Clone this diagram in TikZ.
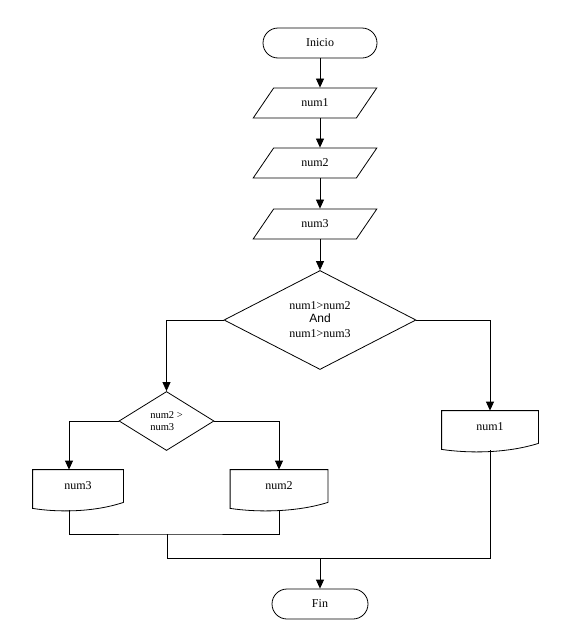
\documentclass[tikz,border=0pt]{standalone}
\usepackage{fontspec}
\setmainfont{Liberation Serif}
\setsansfont{Liberation Sans}
\usetikzlibrary{shapes.geometric,arrows.meta}

\tikzset{
	terminal/.style={draw,rectangle,rounded corners=15pt,minimum height=30pt,inner sep=0pt},
	io/.style={draw,trapezium,trapezium left angle=50,trapezium right angle=130,trapezium stretches=true,minimum width=124pt,minimum height=30pt,inner sep=0pt},
	decision/.style={draw,diamond,inner sep=0pt},
	doc/.style={rectangle,minimum height=32pt,inner sep=0pt},
	arr/.style={-{Triangle[width=8pt,length=9pt]}},
}

\begin{document}
\begin{tikzpicture}[x=1pt,y=-1pt,line width=0.8pt,font=\fontsize{12pt}{14pt}\selectfont]
	\useasboundingbox (0,0) rectangle (575,635);
	\node[terminal,minimum width=114pt] (inicio) at (320,43) {Inicio};
	\node[io] (n1) at (315,103) {num1};
	\node[io] (n2) at (315,163) {num2};
	\node[io] (n3) at (315,224) {num3};
	\node[decision,minimum width=192pt,minimum height=99pt,align=center] (cond1) at (320,320)
		{num1>num2\\[-1pt]{\sffamily And}\\[1pt]num1>num3};
	\node[decision,minimum width=95pt,minimum height=59pt,align=left,font=\fontsize{10.5pt}{12pt}\selectfont] (cond2) at (166.5,421) {num2 >\\num3};
	\node[doc,minimum width=96pt] (o1) at (490,427) {num1};
	\node[doc,minimum width=90pt] (o3) at (78,486) {num3};
	\node[doc,minimum width=97pt] (o2) at (279,486) {num2};
	\node[terminal,minimum width=96pt] (fin) at (320,604) {Fin};

	% document outlines
	\draw (o1.south west) -- (o1.north west) -- (o1.north east) -- (o1.south east) .. controls +(-32,10) and +(27,4) .. ([yshift=-6pt]o1.south west) -- cycle;
	\draw (o3.south west) -- (o3.north west) -- (o3.north east) -- (o3.south east) .. controls +(-30,10) and +(25,4) .. ([yshift=-6pt]o3.south west) -- cycle;
	\draw (o2.south west) -- (o2.north west) -- (o2.north east) -- (o2.south east) .. controls +(-32,10) and +(27,4) .. ([yshift=-6pt]o2.south west) -- cycle;

	\coordinate (join1) at (167,534);
	\coordinate (join2) at (167,558);

	\draw[arr] (inicio.south) -- (inicio.south |- n1.north);
	\draw[arr] (inicio.south |- n1.south) -- (inicio.south |- n2.north);
	\draw[arr] (inicio.south |- n2.south) -- (inicio.south |- n3.north);
	\draw[arr] (inicio.south |- n3.south) -- (cond1.north);
	\draw[arr] (cond1.west) -| (cond2.north);
	\draw[arr] (cond1.east) -| (o1.north);
	\draw[arr] (cond2.west) -| ([xshift=-9pt]o3.north);
	\draw[arr] (cond2.east) -| (o2.north);
	\draw ([xshift=-9pt,yshift=-8pt]o3.south) |- (join1) -| ([yshift=-8pt]o2.south);
	\draw (join1) -- (join2) -| ([yshift=-7pt]o1.south);
	\draw[arr] (join2 -| fin.north) -- (fin.north);
\end{tikzpicture}
\end{document}
